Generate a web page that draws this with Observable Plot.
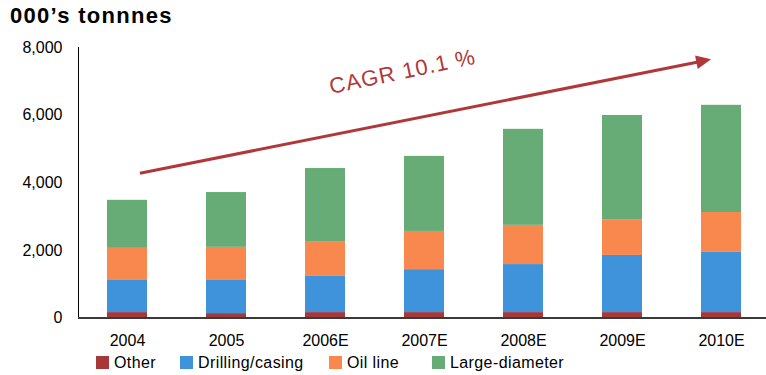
<!DOCTYPE html>
<html>
<head>
<meta charset="utf-8">
<script src="https://cdn.jsdelivr.net/npm/d3@7"></script>
<script src="https://cdn.jsdelivr.net/npm/@observablehq/plot@0.6"></script>
<style>
  body { margin: 0; background: #fff; font-family: "Liberation Sans", Arial, sans-serif; color: #000; }
  #wrap { width: 766px; height: 375px; overflow: hidden; }
  #title { height: 38px; box-sizing: border-box; padding: 3px 0 0 10px; font-size: 22px; font-weight: bold; line-height: 26px; letter-spacing: 1.3px; }
  #chart svg { display: block; }
  #legend { display: flex; padding-left: 96px; margin-top: 3px; font-size: 16px; line-height: 16px; letter-spacing: 0.4px; }
  #legend .item { display: flex; align-items: flex-start; }
  #legend .sw { width: 13px; height: 13px; margin-top: 1px; margin-right: 5px; flex: none; }
</style>
</head>
<body>
<div id="wrap">
  <div id="title">000’s tonnnes</div>
  <div id="chart"></div>
  <div id="legend"></div>
</div>
<script>
// Steel pipe output by segment, thousand tonnes
const years = ["2004", "2005", "2006E", "2007E", "2008E", "2009E", "2010E"];
const series = ["Other", "Drilling/casing", "Oil line", "Large-diameter"];
const other = [160, 130, 160, 160, 160, 160, 160];
const drilling = [950, 980, 1070, 1270, 1420, 1690, 1780];
const oilLine = [950, 980, 1030, 1130, 1160, 1060, 1180];
const largeDiameter = [1420, 1620, 2160, 2220, 2840, 3080, 3170];
const yTicks = [0, 2000, 4000, 6000, 8000];
const colors = ["#A7383A", "#3F93DA", "#F9884E", "#67AC76"];
const cagrLabel = "CAGR 10.1 %";

// Growth arrow endpoints (year band, shift within band in bandwidths, value)
const arrow = {fromYear: "2004", fromShift: 0.31, fromValue: 4280, toYear: "2010E", toShift: -0.26, toValue: 7650};
const labelPos = {year: "2007E", shift: -0.55, value: 7280, angle: -11.8};
const arrowColor = "#B0383A";

const rows = [];
const bySeries = [other, drilling, oilLine, largeDiameter];
years.forEach((yr, i) => {
  series.forEach((s, j) => rows.push({year: yr, series: s, value: bySeries[j][i]}));
});

const W = 766, H = 314;
const thousands = d3.format(",");

const chart = Plot.plot({
  width: W,
  height: H,
  marginTop: 9,
  marginBottom: 34.5,
  marginLeft: 78,
  marginRight: 0,
  style: {fontFamily: "'Liberation Sans', Arial, sans-serif", fontSize: "16px", color: "#000", background: "#fff"},
  x: {type: "band", domain: years, range: [78, 770], paddingInner: 0.6, paddingOuter: 0.29, label: null},
  y: {domain: [0, 8000], label: null},
  color: {domain: series, range: colors},
  marks: [
    Plot.barY(rows, {x: "year", y: "value", fill: "series", order: series}),
    Plot.frame({anchor: "left", stroke: "#000", strokeWidth: 1}),
    Plot.ruleY([0], {stroke: "#3a3a3a", strokeWidth: 2}),
    Plot.axisY({ticks: yTicks, tickSize: 0, tickPadding: 16, tickFormat: thousands, label: null, fontSize: 16}),
    Plot.axisX({tickSize: 0, tickPadding: 17, label: null, fontSize: 16}),
    Plot.link([arrow], {
      x1: "fromYear", y1: "fromValue", x2: "toYear", y2: "toValue",
      stroke: arrowColor, strokeWidth: 3,
      render(index, scales, values, dimensions, context, next) {
        const bw = scales.x.bandwidth();
        const x1 = values.x1[0] + arrow.fromShift * bw;
        const tx = values.x2[0] + arrow.toShift * bw;
        const y1 = values.y1[0], ty = values.y2[0];
        const len = Math.hypot(tx - x1, ty - y1);
        const ux = (tx - x1) / len, uy = (ty - y1) / len;
        const headLen = 15, headHalf = 6.8;
        const bx = tx - ux * headLen, by = ty - uy * headLen;
        const g = next(index, scales, {
          ...values,
          x1: [x1], y1: [y1],
          x2: [tx - ux * (headLen - 3)], y2: [ty - uy * (headLen - 3)]
        }, dimensions, context);
        d3.select(g).append("polygon")
          .attr("points", [[tx, ty], [bx - uy * headHalf, by + ux * headHalf], [bx + uy * headHalf, by - ux * headHalf]].map(p => p.join(",")).join(" "))
          .attr("fill", arrowColor)
          .attr("stroke", "none");
        return g;
      }
    }),
    Plot.text([labelPos], {
      x: "year", y: "value", text: () => cagrLabel,
      rotate: labelPos.angle, fill: arrowColor, fontSize: 22, lineAnchor: "middle", textAnchor: "middle",
      render(index, scales, values, dimensions, context, next) {
        const bw = scales.x.bandwidth();
        const g = next(index, scales, {...values, x: Array.from(values.x, v => v + labelPos.shift * bw)}, dimensions, context);
        d3.select(g).style("letter-spacing", "1px");
        return g;
      }
    })
  ]
});
document.getElementById("chart").appendChild(chart);

// Legend
const legend = d3.select("#legend");
const itemWidths = [84, 149, 103, null];
series.forEach((s, i) => {
  const item = legend.append("div").attr("class", "item");
  if (itemWidths[i]) item.style("width", itemWidths[i] + "px");
  item.append("div").attr("class", "sw").style("background", colors[i]);
  item.append("span").text(s);
});
</script>
</body>
</html>
